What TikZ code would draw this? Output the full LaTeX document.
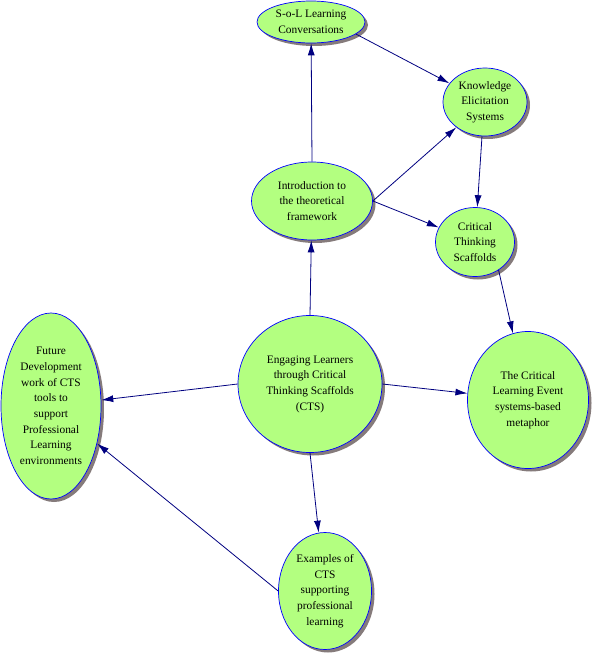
\documentclass[tikz,border=0pt]{standalone}
\usepackage{fontspec}
\setmainfont{Liberation Serif}
\usetikzlibrary{arrows.meta, shapes.geometric, shadows}
\definecolor{leaf}{HTML}{B3FF80}
\definecolor{shade}{HTML}{857B7B}
\definecolor{navyline}{HTML}{000080}
\tikzset{topic/.style = {ellipse, draw=blue, line width=0.7pt, fill=leaf, inner sep=0pt, align=center,
  font=\fontsize{11.4}{15.7}\selectfont,
  drop shadow = {shadow xshift=3pt, shadow yshift=-3pt, fill=shade, opacity=1}}}
\tikzset{link/.style = {draw=navyline, line width=0.8pt, -{Latex[length=12pt, width=7pt]}}}

\begin{document}
\begin{tikzpicture}[x=1pt, y=-1pt]
\useasboundingbox (0,0) rectangle (597,658);
\node[topic, minimum width=108pt, minimum height=42pt] (sol) at (311,22) {S-o-L Learning\\Conversations};
\node[topic, minimum width=84pt, minimum height=68pt] (know) at (485,102) {Knowledge\\Elicitation\\Systems};
\node[topic, minimum width=121pt, minimum height=78pt] (intro) at (312,201) {Introduction to\\the theoretical\\framework};
\node[topic, minimum width=79pt, minimum height=69pt] (cts) at (475,242) {Critical\\Thinking\\Scaffolds};
\node[topic, minimum width=144pt, minimum height=137pt] (engage) at (310,384) {Engaging Learners\\through Critical\\Thinking Scaffolds\\(CTS)};
\node[topic, minimum width=121pt, minimum height=137pt] (event) at (528,400) {The Critical\\Learning Event\\systems-based\\metaphor};
\node[topic, minimum width=100pt, minimum height=186pt] (future) at (51,406) {Future\\Development\\work of CTS\\tools to\\support\\Professional\\Learning\\environments};
\node[topic, minimum width=93pt, minimum height=117pt] (examples) at (325,591) {Examples of\\CTS\\supporting\\professional\\learning};
\draw[link] (intro.north) -- (sol);
\draw[link] (sol.-15) -- (know);
\draw[link] (intro.east) -- (know);
\draw[link] (intro.east) -- (cts);
\draw[link] (know.-95) -- (cts);
\draw[link] (cts.-50) -- (event);
\draw[link] (engage.north) -- (intro);
\draw[link] (engage.west) -- (future);
\draw[link] (engage.east) -- (event);
\draw[link] (engage.south) -- (examples);
\draw[link] (examples.west) -- (future);
\end{tikzpicture}
\end{document}
